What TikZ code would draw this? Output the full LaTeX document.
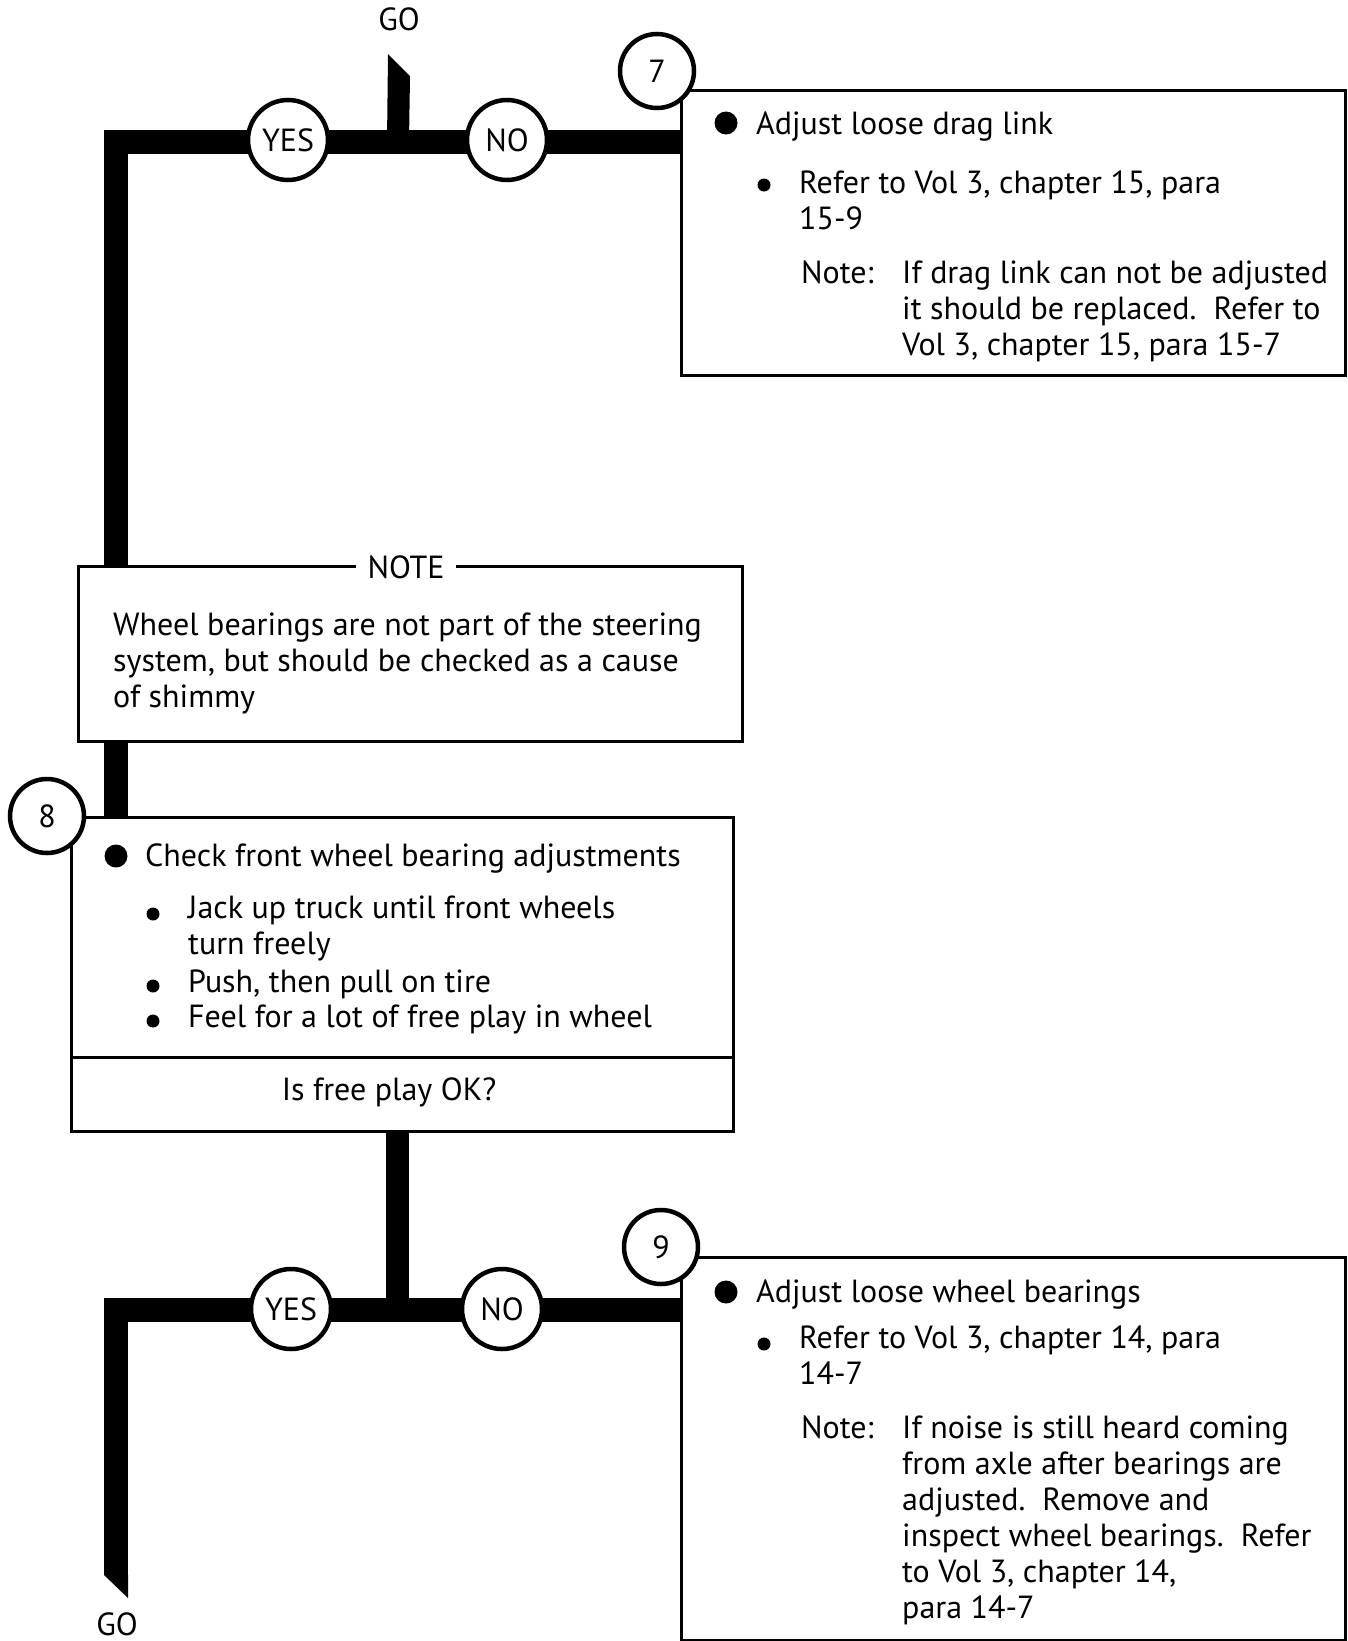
\documentclass[tikz,border=0pt]{standalone}
\usepackage{fontspec}
\setmainfont{PT Sans}
\usetikzlibrary{backgrounds, calc}

\begin{document}
\begin{tikzpicture}[
x=1pt, y=-1pt,
font=\fontsize{32}{36}\selectfont,
box/.style={draw, line width=3pt, fill=white, anchor=north west, inner sep=0pt},
num/.style={circle, draw, line width=4.5pt, fill=white, minimum size=80pt, inner sep=0pt},
tag/.style={num, minimum size=74pt},
bar/.style={line width=24pt},
txt/.style={anchor=base west, align=left, inner sep=0pt},
dot/.style={circle, fill, inner sep=0pt, minimum size=#1}
]
\useasboundingbox (0,0) rectangle (1348,1641);

% step 7
\node (go1) at (399,19) {GO};
\node[box, minimum width=664pt, minimum height=285pt] (box7) at (680,89) {};
\node[tag] (c7) at (657,71) {7};
\node[num] (yes1) at (288,140) {YES};
\node[num] (no1) at (507,140) {NO};
\node[dot=23pt] at (726,123) {};
\node[txt] (t7a) at (756,134) {Adjust loose drag link};
\node[dot=13pt] at (764,185) {};
\node[txt] (t7b) at (799,229) {Refer to Vol 3, chapter 15, para\\15-9};
\node[txt] (t7c) at (801,283) {Note:};
\node[txt] (t7d) at (902,355) {If drag link can not be adjusted\\it should be replaced.\ \ Refer to\\Vol 3, chapter 15, para 15-7};

% note
\node[box, minimum width=664pt, minimum height=175pt] (note) at (77,565) {};
\node[fill=white, inner xsep=12pt] (notehd) at (406,567) {NOTE};
\node[txt] (tn) at (113,707) {Wheel bearings are not part of the steering\\system, but should be checked as a cause\\of shimmy};

% step 8
\node[box, minimum width=662pt, minimum height=314pt] (box8) at (70,816) {};
\node[tag] (c8) at (47,816) {8};
\node[dot=23pt] at (116,856) {};
\node[txt] (t8a) at (145,866) {Check front wheel bearing adjustments};
\node[dot=13pt] at (153,914) {};
\node[txt] (t8b) at (188,954) {Jack up truck until front wheels\\turn freely};
\node[dot=13pt] at (153,986) {};
\node[txt] (t8c) at (188,992) {Push, then pull on tire};
\node[dot=13pt] at (153,1021) {};
\node[txt] (t8d) at (188,1027) {Feel for a lot of free play in wheel};
\draw[line width=3pt] (box8.west |- 0,1057) -- (box8.east |- 0,1057);
\node (q8) at (389,1092) {Is free play OK?};

% step 9
\node[box, minimum width=664pt, minimum height=383pt] (box9) at (680,1256) {};
\node[tag] (c9) at (661,1247) {9};
\node[num] (yes2) at (291,1309) {YES};
\node[num] (no2) at (502,1309) {NO};
\node[dot=23pt] at (726,1292) {};
\node[txt] (t9a) at (756,1302) {Adjust loose wheel bearings};
\node[dot=13pt] at (764,1344) {};
\node[txt] (t9b) at (799,1384) {Refer to Vol 3, chapter 14, para\\14-7};
\node[txt] (t9c) at (801,1438) {Note:};
\node[txt] (t9d) at (902,1618) {If noise is still heard coming\\from axle after bearings are\\adjusted.\ \ Remove and\\inspect wheel bearings.\ \ Refer\\to Vol 3, chapter 14,\\para 14-7};
\node (go2) at (117,1624) {GO};

% flow bars
\coordinate (tl) at (116,142);
\coordinate (tj) at (398,142);
\coordinate (bl) at (116,1310);
\coordinate (bj) at (397,1310);
\coordinate (gotail) at (116,1575);
\begin{scope}[on background layer]
\draw[bar] (box8.north -| tl) -- (tl) -- (tl -| box7.west);
\fill ($(tj)+(-11,0)$) -- ($(tj)+(11,0)$) -- ($(go1.south)+(11,42)$) -- ($(go1.south)+(-11,20)$) -- cycle;
\draw[bar, line width=23pt] (bj |- box8.south) -- (bj);
\draw[bar] (box9.west |- bl) -- (bl) -- (gotail);
\fill ($(gotail)+(-12,0)$) -- ($(gotail)+(12,0)$) -- ($(gotail)+(12,23)$) -- cycle;
\end{scope}
\end{tikzpicture}
\end{document}
